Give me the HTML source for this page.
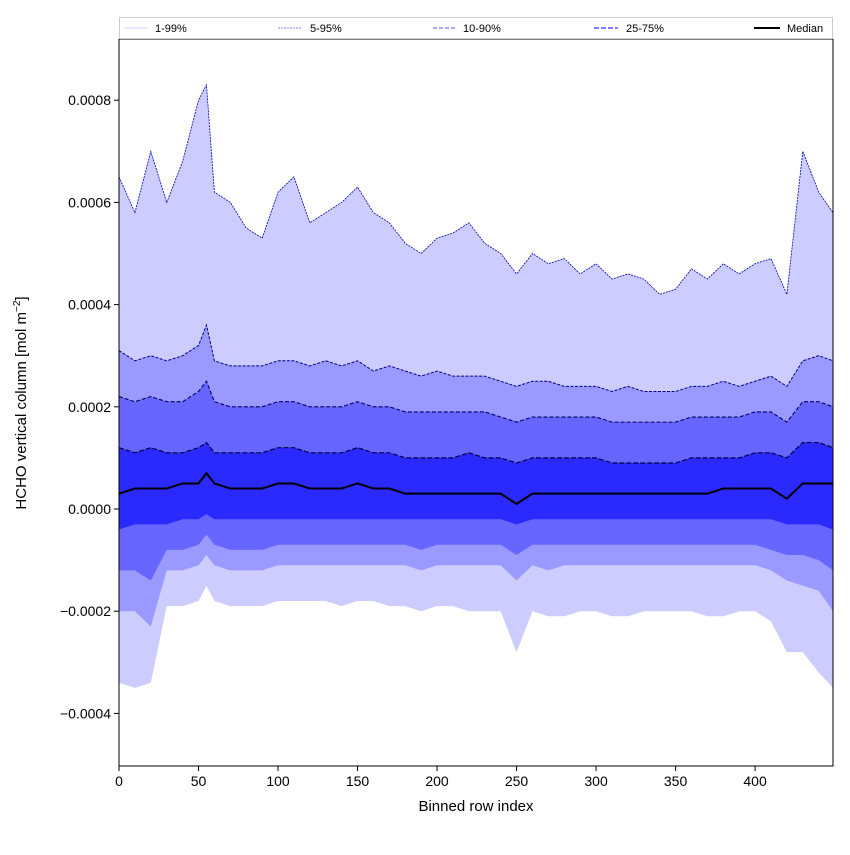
<!DOCTYPE html>
<html><head><meta charset="utf-8"><style>
body{margin:0;background:#fff;font-family:"Liberation Sans","DejaVu Sans",sans-serif}
</style></head><body>
<svg id="c" width="850" height="850" xmlns="http://www.w3.org/2000/svg"></svg>
<script>
const rows=[0,10,20,30,40,50,55,60,70,80,90,100,110,120,130,140,150,160,170,180,190,200,210,220,230,240,250,260,270,280,290,300,310,320,330,340,350,360,370,380,390,400,410,420,430,440,449];
const p99=[6.5,5.8,7.0,6.0,6.8,8.0,8.3,6.2,6.0,5.5,5.3,6.2,6.5,5.6,5.8,6.0,6.3,5.8,5.6,5.2,5.0,5.3,5.4,5.6,5.2,5.0,4.6,5.0,4.8,4.9,4.6,4.8,4.5,4.6,4.5,4.2,4.3,4.7,4.5,4.8,4.6,4.8,4.9,4.2,7.0,6.2,5.8];
const p95=[3.1,2.9,3.0,2.9,3.0,3.2,3.6,2.9,2.8,2.8,2.8,2.9,2.9,2.8,2.9,2.8,2.9,2.7,2.8,2.7,2.6,2.7,2.6,2.6,2.6,2.5,2.4,2.5,2.5,2.4,2.4,2.4,2.3,2.4,2.3,2.3,2.3,2.4,2.4,2.5,2.4,2.5,2.6,2.4,2.9,3.0,2.9];
const p90=[2.2,2.1,2.2,2.1,2.1,2.3,2.5,2.1,2.0,2.0,2.0,2.1,2.1,2.0,2.0,2.0,2.1,2.0,2.0,1.9,1.9,1.9,1.9,1.9,1.9,1.8,1.7,1.8,1.8,1.8,1.8,1.8,1.7,1.7,1.7,1.7,1.7,1.8,1.8,1.8,1.8,1.9,1.9,1.7,2.1,2.1,2.0];
const p75=[1.2,1.1,1.2,1.1,1.1,1.2,1.3,1.1,1.1,1.1,1.1,1.2,1.2,1.1,1.1,1.1,1.2,1.1,1.1,1.0,1.0,1.0,1.0,1.1,1.0,1.0,0.9,1.0,1.0,1.0,1.0,1.0,0.9,0.9,0.9,0.9,0.9,1.0,1.0,1.0,1.0,1.1,1.1,1.0,1.3,1.3,1.2];
const med=[0.3,0.4,0.4,0.4,0.5,0.5,0.7,0.5,0.4,0.4,0.4,0.5,0.5,0.4,0.4,0.4,0.5,0.4,0.4,0.3,0.3,0.3,0.3,0.3,0.3,0.3,0.1,0.3,0.3,0.3,0.3,0.3,0.3,0.3,0.3,0.3,0.3,0.3,0.3,0.4,0.4,0.4,0.4,0.2,0.5,0.5,0.5];
const p25=[-0.4,-0.3,-0.3,-0.3,-0.2,-0.2,-0.1,-0.2,-0.2,-0.2,-0.2,-0.2,-0.2,-0.2,-0.2,-0.2,-0.2,-0.2,-0.2,-0.2,-0.2,-0.2,-0.2,-0.2,-0.2,-0.2,-0.3,-0.2,-0.2,-0.2,-0.2,-0.2,-0.2,-0.2,-0.2,-0.2,-0.2,-0.2,-0.2,-0.2,-0.2,-0.2,-0.2,-0.3,-0.3,-0.3,-0.4];
const p10=[-1.2,-1.2,-1.4,-0.8,-0.8,-0.7,-0.5,-0.7,-0.8,-0.8,-0.8,-0.7,-0.7,-0.7,-0.7,-0.7,-0.7,-0.7,-0.7,-0.7,-0.8,-0.7,-0.7,-0.7,-0.7,-0.7,-0.9,-0.7,-0.7,-0.7,-0.7,-0.7,-0.7,-0.7,-0.7,-0.7,-0.7,-0.7,-0.7,-0.7,-0.7,-0.7,-0.8,-0.9,-0.9,-1.0,-1.2];
const p5=[-2.0,-2.0,-2.3,-1.2,-1.2,-1.1,-0.9,-1.1,-1.2,-1.2,-1.2,-1.1,-1.1,-1.1,-1.1,-1.1,-1.1,-1.1,-1.1,-1.1,-1.2,-1.1,-1.1,-1.1,-1.1,-1.1,-1.4,-1.1,-1.2,-1.1,-1.1,-1.1,-1.1,-1.1,-1.1,-1.1,-1.1,-1.1,-1.1,-1.1,-1.1,-1.1,-1.2,-1.4,-1.5,-1.6,-2.0];
const p1=[-3.4,-3.5,-3.4,-1.9,-1.9,-1.8,-1.5,-1.8,-1.9,-1.9,-1.9,-1.8,-1.8,-1.8,-1.8,-1.9,-1.8,-1.8,-1.9,-1.9,-2.0,-1.9,-1.9,-2.0,-2.0,-2.0,-2.8,-2.0,-2.1,-2.1,-2.0,-2.0,-2.1,-2.1,-2.0,-2.0,-2.0,-2.0,-2.1,-2.1,-2.0,-2.0,-2.2,-2.8,-2.8,-3.2,-3.5];
const xTicks=[0,50,100,150,200,250,300,350,400];
const yTicks=[-4,-2,0,2,4,6,8];
const yTickLabels=["\u22120.0004","\u22120.0002","0.0000","0.0002","0.0004","0.0006","0.0008"];

const L=119,R=833,T=39,B=766;
const X=v=>L+v*(R-L)/449;
const Y=v=>509-v*51.1;
const svg=document.getElementById('c');
const NS='http://www.w3.org/2000/svg';
function mk(tag,attrs,parent){const e=document.createElementNS(NS,tag);for(const k in attrs)e.setAttribute(k,attrs[k]);(parent||svg).appendChild(e);return e;}
function band(up,lo,fill,name){
  let d='M'+rows.map((r,i)=>X(r)+','+Y(up[i])).join('L');
  for(let i=rows.length-1;i>=0;i--)d+='L'+X(rows[i])+','+Y(lo[i]);
  const p=mk('path',{d:d+'Z',fill:fill,stroke:'none'});
  
  
}
function line(vals,stroke,w,dash,name){
  const p=mk('polyline',{points:rows.map((r,i)=>X(r)+','+Y(vals[i])).join(' '),fill:'none',stroke:stroke,'stroke-width':w});
  if(dash)p.setAttribute('stroke-dasharray',dash);
  
  
}
band(p99,p1,'#ccccff','band-1-99');
band(p95,p5,'#9999ff','band-5-95');
band(p90,p10,'#6666ff','band-10-90');
band(p75,p25,'#2a2aff','band-25-75');
line(p99,'#0000aa',0.8,'2,1','line-p99');
line(p95,'#000088',1,'3,1.5','line-p95');
line(p90,'#000066',1.1,'4,2','line-p90');
line(p75,'#000044',1.2,'5,2','line-p75');
line(med,'#000',2,null,'median-line');
mk('rect',{x:L,y:T,width:R-L,height:B-T,fill:'none',stroke:'#000','stroke-width':1});
xTicks.forEach(v=>{
  mk('line',{x1:X(v),x2:X(v),y1:B,y2:B+5,stroke:'#000'});
  const t=mk('text',{x:X(v),y:B+20,'text-anchor':'middle','font-size':14});t.textContent=v;
  
  
});
yTicks.forEach((v,i)=>{
  mk('line',{x1:L-5,x2:L,y1:Y(v),y2:Y(v),stroke:'#000'});
  const t=mk('text',{x:L-8,y:Y(v)+5,'text-anchor':'end','font-size':14});t.textContent=yTickLabels[i];
  
  
});
</script>
<svg style="position:absolute;left:0;top:0" width="850" height="850" xmlns="http://www.w3.org/2000/svg">
<text x="476" y="811" text-anchor="middle" font-size="15">Binned row index</text>
<text transform="translate(26,403) rotate(-90)" text-anchor="middle" font-size="15">HCHO vertical column [mol m<tspan font-size="10" dy="-6">−2</tspan><tspan dy="6">]</tspan></text>
<g>
<rect x="119.5" y="17.5" width="713" height="21" fill="#fff" stroke="#ccc"/>
<line x1="124" x2="148" y1="28" y2="28" stroke="#ccccff" stroke-width="1"/><text x="155" y="32" font-size="11">1-99%</text>
<line x1="278" x2="302" y1="28" y2="28" stroke="#8888ee" stroke-width="1" stroke-dasharray="2,1"/><text x="310" y="32" font-size="11">5-95%</text>
<line x1="433" x2="457" y1="28" y2="28" stroke="#7777ee" stroke-width="1.2" stroke-dasharray="4,2"/><text x="463" y="32" font-size="11">10-90%</text>
<line x1="594" x2="618" y1="28" y2="28" stroke="#5555ff" stroke-width="1.5" stroke-dasharray="5,2"/><text x="626" y="32" font-size="11">25-75%</text>
<line x1="754" x2="780" y1="28" y2="28" stroke="#000" stroke-width="2"/><text x="787" y="32" font-size="11">Median</text>
</g>
</svg>
</body></html>
